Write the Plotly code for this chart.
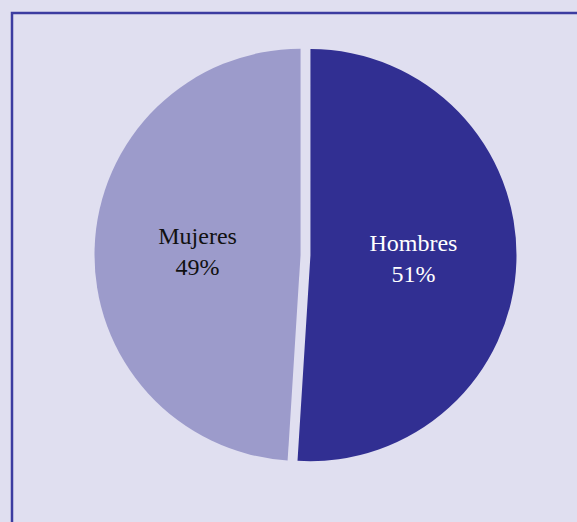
import plotly.graph_objects as go

# Distribución por sexo
labels = ["Hombres", "Mujeres"]
values = [51, 49]
colors = ["#312f92", "#9c9bcb"]
text_colors = ["#ffffff", "#111111"]

W, H = 577, 522
BG = "#e0dff0"

fig = go.Figure(
    go.Pie(
        labels=labels,
        values=values,
        sort=False,
        direction="clockwise",
        rotation=0,
        pull=[0.024, 0.024],
        marker=dict(colors=colors, line=dict(width=0)),
        textinfo="label+percent",
        texttemplate="%{label}<br>%{percent:.0%}",
        textposition="inside",
        insidetextorientation="horizontal",
        textfont=dict(family="Liberation Serif, serif", size=24, color=text_colors),
        hoverinfo="label+percent",
        showlegend=False,
        domain=dict(x=[94 / W, 517 / W], y=[(H - 466) / H, (H - 44) / H]),
    )
)

# Frame around the chart area (continues past the right and bottom edges)
fig.add_shape(
    type="rect",
    xref="paper", yref="paper",
    x0=12 / W, x1=1.05, y0=-0.05, y1=1 - 13 / H,
    line=dict(color="#3c3ca0", width=2.5),
    fillcolor="rgba(0,0,0,0)",
    layer="below",
)

fig.update_layout(
    width=W,
    height=H,
    margin=dict(l=0, r=0, t=0, b=0),
    paper_bgcolor=BG,
    plot_bgcolor=BG,
)

fig.write_html("out.html")
